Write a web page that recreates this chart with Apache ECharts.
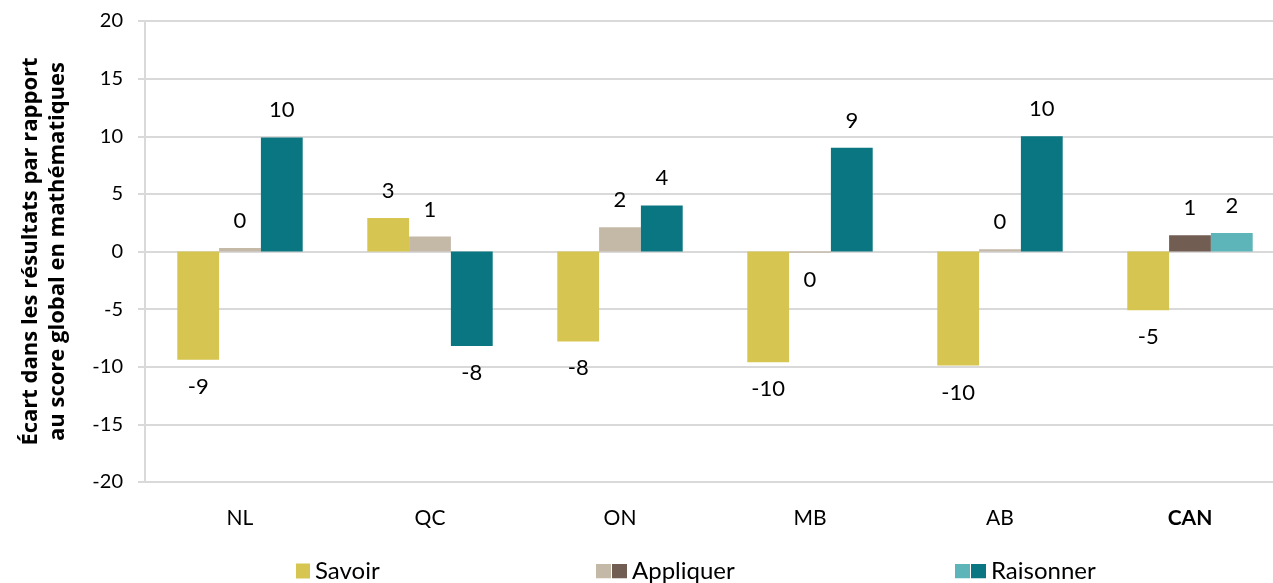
<!DOCTYPE html>
<html>
<head>
<meta charset="utf-8">
<script src="https://cdn.jsdelivr.net/npm/echarts@6/dist/echarts.min.js"></script>
<style>
  html, body { margin: 0; padding: 0; background: #fff; overflow: hidden; }
  /* la zone de tracé dépasse un peu à droite, comme dans l'original */
  #chart { width: 1285px; height: 583px; }
</style>
</head>
<body>
<div id="chart"></div>
<script>
// données (écart par rapport au score global)
const categories = ['NL', 'QC', 'ON', 'MB', 'AB', 'CAN']
const savoir = [-9.4, 2.9, -7.8, -9.6, -9.9, -5.1]
const appliquer = [0.3, 1.3, 2.1, -0.1, 0.2, 1.4]
const raisonner = [9.9, -8.2, 4.0, 9.0, 10.0, 1.6]
const yTicks = { min: -20, max: 20, interval: 5 }

// couleurs
const cSavoir = '#D6C551'
const cAppliquer = '#C4B8A7'
const cAppliquerCan = '#725D53'
const cRaisonner = '#0A7681'
const cRaisonnerCan = '#5EB5B9'

const FONT = 'Lato'
const TITLE_FONT = 'Open Sans'

// icône de légende à deux carrés
const twoSwatch = (c1, c2) => {
  const svg = '<svg xmlns="http://www.w3.org/2000/svg" width="31" height="15">' +
    '<rect x="0" y="0" width="15" height="15" fill="' + c1 + '"/>' +
    '<rect x="16" y="0" width="15" height="15" fill="' + c2 + '"/></svg>'
  return 'image://data:image/svg+xml;charset=utf-8,' + encodeURIComponent(svg)
}

// étiquette au-dessus ou au-dessous selon le signe
const toItems = (values, canColor) => values.map((v, i) => {
  const item = { value: v, label: { position: v < 0 ? 'bottom' : 'top' } }
  if (canColor && categories[i] === 'CAN') item.itemStyle = { color: canColor }
  return item
})

const labelStyle = {
  show: true,
  distance: 16,
  fontFamily: FONT,
  fontSize: 22,
  color: '#000',
  formatter: p => String(Math.round(p.value) || 0)
}

const legendBase = {
  top: 554,
  itemHeight: 15,
  textStyle: { fontFamily: FONT, fontSize: 24, color: '#000' },
  selectedMode: false
}

const chart = echarts.init(document.getElementById('chart'))

const option = {
  animation: false,
  grid: { left: 145, right: 0, top: 21, bottom: 101 },
  legend: [
    Object.assign({}, legendBase, { left: 291, itemWidth: 14, data: [{ name: 'Savoir', icon: 'rect' }] }),
    Object.assign({}, legendBase, { left: 591, itemWidth: 31, data: [{ name: 'Appliquer', icon: twoSwatch(cAppliquer, cAppliquerCan) }] }),
    Object.assign({}, legendBase, { left: 950, itemWidth: 31, data: [{ name: 'Raisonner', icon: twoSwatch(cRaisonnerCan, cRaisonner) }] })
  ],
  xAxis: {
    type: 'category',
    data: categories,
    position: 'bottom',
    axisLine: { show: false, onZero: false },
    axisTick: { show: false },
    axisLabel: {
      margin: 26,
      fontFamily: FONT,
      fontSize: 21,
      color: '#000',
      formatter: v => v === 'CAN' ? '{b|' + v + '}' : v,
      rich: { b: { fontFamily: FONT, fontSize: 21, fontWeight: 'bold', color: '#000' } }
    }
  },
  yAxis: {
    type: 'value',
    min: yTicks.min,
    max: yTicks.max,
    interval: yTicks.interval,
    name: 'Écart dans les résultats par rapport\nau score global en mathématiques',
    nameLocation: 'middle',
    nameRotate: 90,
    nameGap: 74,
    nameTextStyle: {
      fontFamily: TITLE_FONT, fontSize: 22, fontWeight: 'bold', color: '#000', lineHeight: 27
    },
    axisLine: { show: true, lineStyle: { color: '#d9d9d9', width: 2 } },
    axisTick: { show: true, length: 7, lineStyle: { color: '#d9d9d9', width: 2 } },
    axisLabel: { margin: 22, fontFamily: FONT, fontSize: 20, color: '#000' },
    splitLine: { show: true, lineStyle: { color: '#d9d9d9', width: 2 } }
  },
  series: [
    {
      name: 'Savoir',
      type: 'bar',
      barGap: 0,
      barCategoryGap: '34%',
      itemStyle: { color: cSavoir },
      label: labelStyle,
      data: toItems(savoir)
    },
    {
      name: 'Appliquer',
      type: 'bar',
      barGap: 0,
      barCategoryGap: '34%',
      itemStyle: { color: cAppliquer },
      label: labelStyle,
      data: toItems(appliquer, cAppliquerCan)
    },
    {
      name: 'Raisonner',
      type: 'bar',
      barGap: 0,
      barCategoryGap: '34%',
      itemStyle: { color: cRaisonner },
      label: labelStyle,
      data: toItems(raisonner, cRaisonnerCan)
    }
  ]
}

chart.setOption(option)
</script>
</body>
</html>
